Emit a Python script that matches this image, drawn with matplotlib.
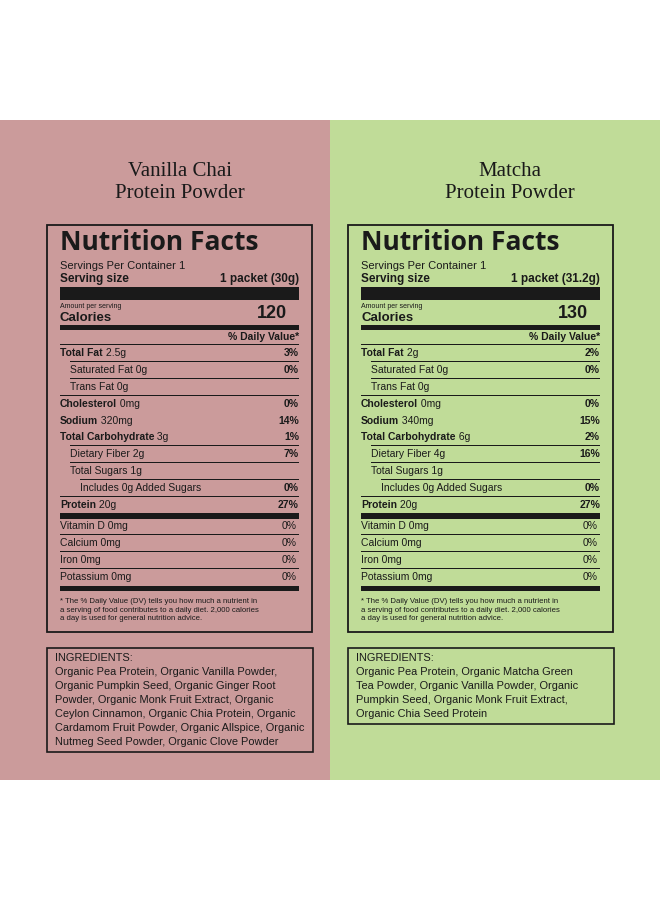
import matplotlib
matplotlib.use("Agg")
import matplotlib.pyplot as plt
from matplotlib.patches import Rectangle

titles = [["Vanilla Chai", "Protein Powder"], ["Matcha", "Protein Powder"]]
panel_colors = ["#cb9b9b", "#c0dc98"]
servings = ["1 packet (30g)", "1 packet (31.2g)"]
calories = ["120", "130"]

# (bold label, amount, daily value, indent level)
rows_left = [("Total Fat", "2.5g", "3%", 0), ("", "Saturated Fat 0g", "0%", 1),
             ("", "Trans Fat 0g", "", 1), ("Cholesterol", "0mg", "0%", 0),
             ("Sodium", "320mg", "14%", 0), ("Total Carbohydrate", "3g", "1%", 0),
             ("", "Dietary Fiber 2g", "7%", 1), ("", "Total Sugars 1g", "", 1),
             ("", "Includes 0g Added Sugars", "0%", 2), ("Protein", "20g", "27%", 0)]
rows_right = [("Total Fat", "2g", "2%", 0), ("", "Saturated Fat 0g", "0%", 1),
              ("", "Trans Fat 0g", "", 1), ("Cholesterol", "0mg", "0%", 0),
              ("Sodium", "340mg", "15%", 0), ("Total Carbohydrate", "6g", "2%", 0),
              ("", "Dietary Fiber 4g", "16%", 1), ("", "Total Sugars 1g", "", 1),
              ("", "Includes 0g Added Sugars", "0%", 2), ("Protein", "20g", "27%", 0)]
vitamins = [("Vitamin D 0mg", "0%"), ("Calcium 0mg", "0%"), ("Iron 0mg", "0%"), ("Potassium 0mg", "0%")]
footnote = ["* The % Daily Value (DV) tells you how much a nutrient in",
            "a serving of food contributes to a daily diet. 2,000 calories",
            "a day is used for general nutrition advice."]
ingredients = [
    ["INGREDIENTS:", "Organic Pea Protein, Organic Vanilla Powder,",
     "Organic Pumpkin Seed, Organic Ginger Root", "Powder, Organic Monk Fruit Extract, Organic",
     "Ceylon Cinnamon, Organic Chia Protein, Organic", "Cardamom Fruit Powder, Organic Allspice, Organic",
     "Nutmeg Seed Powder, Organic Clove Powder"],
    ["INGREDIENTS:", "Organic Pea Protein, Organic Matcha Green",
     "Tea Powder, Organic Vanilla Powder, Organic", "Pumpkin Seed, Organic Monk Fruit Extract,",
     "Organic Chia Seed Protein"]]

fig = plt.figure(figsize=(6.6, 9), dpi=100)
ax = fig.add_axes([0, 0, 1, 1])
ax.set_xlim(0, 660)
ax.set_ylim(900, 0)
ax.axis("off")
SANS = "Liberation Sans"
K = "#1a1a1a"

def hbar(x0, x1, y, h):
    ax.add_patch(Rectangle((x0, y), x1 - x0, h, color=K, lw=0))

for p in range(2):
    ox = p * 330
    ax.add_patch(Rectangle((ox, 120), 330, 660, color=panel_colors[p], lw=0))
    ax.text(ox + 180, 172, titles[p][0], family="Liberation Serif", fontsize=15, ha="center", va="center", color=K)
    ax.text(ox + 180, 194, titles[p][1], family="Liberation Serif", fontsize=15, ha="center", va="center", color=K)
    bx0 = 47 + p * 301
    bx1 = bx0 + 265
    ax.add_patch(Rectangle((bx0, 225), bx1 - bx0, 407, fill=False, ec=K, lw=1.3))
    L, R = bx0 + 13, bx1 - 13
    ax.text(L, 243, "Nutrition Facts", family="Open Sans", fontsize=19, weight="bold", va="center", color=K)
    ax.text(L, 266, "Servings Per Container 1", family=SANS, fontsize=8, va="center", color=K)
    ax.text(L, 279, "Serving size", family=SANS, fontsize=8.5, weight="bold", va="center", color=K)
    ax.text(R, 279, servings[p], family=SANS, fontsize=8.5, weight="bold", va="center", ha="right", color=K)
    hbar(L, R, 287, 13)
    ax.text(L, 306, "Amount per serving", family=SANS, fontsize=5, va="center", color=K)
    ax.text(L, 318, "Calories", family=SANS, fontsize=9.5, weight="bold", va="center", color=K)
    ax.text(R - 12, 314, calories[p], family=SANS, fontsize=13, weight="bold", va="center", ha="right", color=K)
    hbar(L, R, 325, 5)
    ax.text(R, 337, "% Daily Value*", family=SANS, fontsize=7.5, weight="bold", va="center", ha="right", color=K)
    hbar(L, R, 344, 0.8)
    rows = rows_left if p == 0 else rows_right
    y = 353
    for i, (b, a, dv, ind) in enumerate(rows):
        x = L + 10 * ind
        if b:
            t = ax.text(x, y, b, family=SANS, fontsize=7.5, weight="bold", va="center", color=K)
            ax.annotate(" " + a, xycoords=t, xy=(1, 0.5), va="center", family=SANS, fontsize=7.5, color=K)
        else:
            ax.text(x, y, a, family=SANS, fontsize=7.5, va="center", color=K)
        ax.text(R, y, dv, family=SANS, fontsize=7.5, weight="bold", va="center", ha="right", color=K)
        if i < len(rows) - 1:
            nind = rows[i + 1][3]
            hbar(L + (10 * nind if nind else 0), R, y + 8, 0.8)
        y += 16.9
    hbar(L, R, y - 9, 6)
    y += 4
    for i, (n, dv) in enumerate(vitamins):
        ax.text(L, y, n, family=SANS, fontsize=7.5, va="center", color=K)
        ax.text(R - 2, y, dv, family=SANS, fontsize=7.5, va="center", ha="right", color=K)
        if i < len(vitamins) - 1:
            hbar(L, R, y + 8, 0.8)
        y += 16.9
    hbar(L, R, y - 8, 5)
    y += 8
    for line in footnote:
        ax.text(L, y, line, family=SANS, fontsize=5.6, va="center", color=K)
        y += 8.5
    ing = ingredients[p]
    ih = 14 * len(ing) + 6
    ax.add_patch(Rectangle((bx0, 648), bx1 - bx0 + 1, ih, fill=False, ec=K, lw=1.2))
    for j, line in enumerate(ing):
        ax.text(bx0 + 8, 658 + 14 * j, line, family=SANS, fontsize=7.9, va="center", color=K)

fig.savefig("out.png", dpi=100)
